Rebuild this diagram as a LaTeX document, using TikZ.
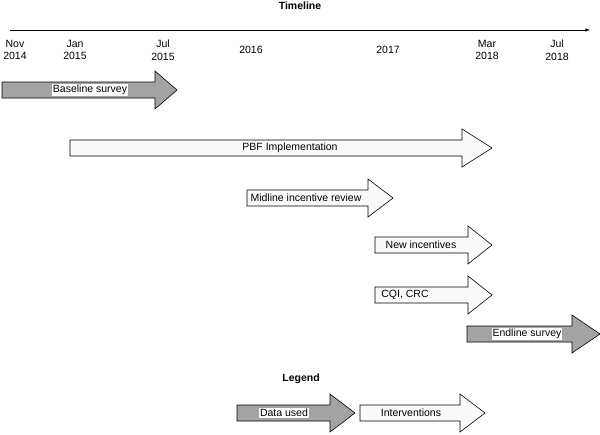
\documentclass[tikz,border=0pt]{standalone}
\usepackage{fontspec}
\setmainfont{Liberation Sans}
\tikzset{
  lbl/.style={font=\fontsize{10.5}{12.5}\selectfont, inner sep=1pt},
  gl/.style={lbl, fill=white},
  used/.style={draw=black, fill=gray!72, line width=0.6pt},
  interv/.style={draw=black, fill=gray!4, line width=0.6pt},
}
% \arr{style}{x0}{xh}{xt}{yc}
\newcommand{\arr}[5]{\draw[#1] (#2,#5-8) -- (#3,#5-8) -- (#3,#5-19) -- (#4,#5) -- (#3,#5+19) -- (#3,#5+8) -- (#2,#5+8) -- cycle;}
\begin{document}
\begin{tikzpicture}[x=1pt,y=-1pt]
\useasboundingbox (0,0) rectangle (600,434);
\node[lbl,font=\fontsize{10.5}{12.5}\selectfont\bfseries] (tl) at (300,6) {Timeline};
\coordinate (ts) at (10,30); \coordinate (te) at (590,30);
\draw[-latex, line width=0.6pt] (ts) -- (te);
\node[lbl,align=center] (d1) at (15,50) {Nov\\2014};
\node[lbl,align=center] (d2) at (75,50) {Jan\\2015};
\node[lbl,align=center] (d3) at (163,50) {Jul\\2015};
\node[lbl] (d4) at (251,50) {2016};
\node[lbl] (d5) at (388,50) {2017};
\node[lbl,align=center] (d6) at (487,50) {Mar\\2018};
\node[lbl,align=center] (d7) at (557,50) {Jul\\2018};
\arr{used}{2}{155}{177}{90}
\node[gl] (a1) at (90,90) {Baseline survey};
\arr{interv}{70}{462}{492}{148}
\node[lbl] (a2) at (290,148) {PBF Implementation};
\arr{interv}{247}{368}{393}{198}
\node[lbl] (a3) at (306,198) {Midline incentive review};
\arr{interv}{375}{468}{492}{245}
\node[lbl] (a4) at (421,245) {New incentives};
\arr{interv}{375}{468}{492}{295}
\node[lbl] (a5) at (405,295) {CQI, CRC};
\arr{used}{467}{572}{600}{334}
\node[gl] (a6) at (527,334) {Endline survey};
\node[lbl,font=\fontsize{10.5}{12.5}\selectfont\bfseries] (lg) at (301,379) {Legend};
\arr{used}{237}{330}{355}{413}
\node[gl] (l1) at (284,413) {Data used};
\arr{interv}{360}{460}{485}{413}
\node[lbl] (l2) at (411,413) {Interventions};
\end{tikzpicture}
\end{document}
